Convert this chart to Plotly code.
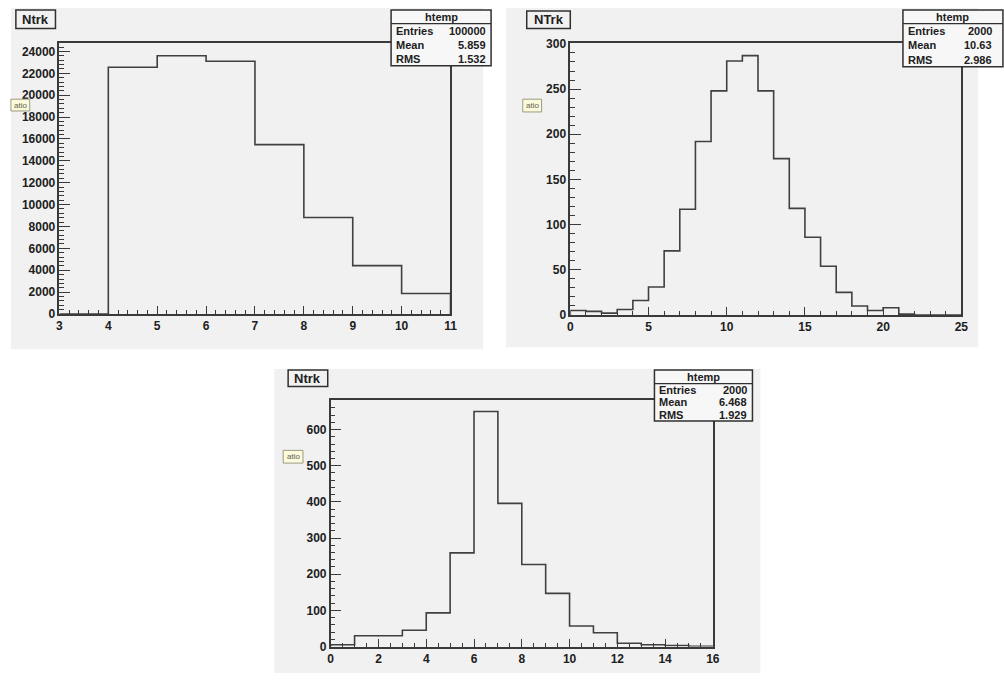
import plotly.graph_objects as go

W, H = 1004, 681

# ---------------- data ----------------
p1_edges = [3, 4, 5, 6, 7, 8, 9, 10, 11]
p1_counts = [0, 22560, 23610, 23100, 15480, 8820, 4420, 1880]
p1_stats = ["100000", "5.859", "1.532"]

p2_edges = list(range(0, 26))
p2_counts = [5, 4, 2, 6, 16, 31, 71, 117, 192, 248, 281, 287, 248, 173,
             118, 86, 54, 25, 10, 5, 8, 1, 0, 0, 0]
p2_stats = ["2000", "10.63", "2.986"]

p3_edges = list(range(0, 17))
p3_counts = [5, 30, 30, 45, 93, 259, 650, 396, 227, 147, 57, 38, 9, 5, 3, 1]
p3_stats = ["2000", "6.468", "1.929"]

stat_names = ["Entries", "Mean", "RMS"]
panel_titles = ["Ntrk", "NTrk", "Ntrk"]

# ---------------- style ----------------
BG = "#f1f1f1"
LINE = "#3a3a3a"
FONT = "Liberation Sans"


def px(x):
    return x / W


def py(y):
    return 1 - y / H


def step_xy(edges, counts):
    xs = [edges[0]] + list(edges)
    ys = [0] + list(counts) + [0]
    return xs, ys


fig = go.Figure()

panels = [
    dict(edges=p1_edges, counts=p1_counts, stats=p1_stats, title=panel_titles[0],
         frame=(57, 452, 38, 314), xr=[3, 11], yr=[0, 24750], xd=1, xm=0.2, yd=2000, ym=400,
         bg=(8, 485, 2, 350), tbox=(13, 53, 4, 23), sbox=(392, 493, 4, 18, 61),
         rbox=(8, 27, 95, 107)),
    dict(edges=p2_edges, counts=p2_counts, stats=p2_stats, title=panel_titles[1],
         frame=(573, 968, 38, 315), xr=[0, 25], yr=[0, 300.7], xd=5, xm=1, yd=50, ym=10,
         bg=(508, 985, 2, 348), tbox=(529, 573, 5, 23), sbox=(909, 1010, 4, 18, 62),
         rbox=(525, 544, 95, 108)),
    dict(edges=p3_edges, counts=p3_counts, stats=p3_stats, title=panel_titles[2],
         frame=(331, 717, 402, 653), xr=[0, 16], yr=[0, 681], xd=2, xm=0.5, yd=100, ym=20,
         bg=(274, 765, 370, 680), tbox=(288, 328, 371, 388), sbox=(658, 757, 371, 385, 423),
         rbox=(283, 303, 453, 466)),
]

shapes = []
annotations = []
layout_axes = {}

for i, p in enumerate(panels):
    n = "" if i == 0 else str(i + 1)
    xs, ys = step_xy(p["edges"], p["counts"])
    fig.add_trace(go.Scatter(
        x=xs, y=ys, mode="lines", line=dict(shape="hv", color="#404040", width=1.6),
        xaxis="x" + n, yaxis="y" + n, showlegend=False, hoverinfo="skip"))

    fx0, fx1, fy0, fy1 = p["frame"]
    common = dict(showline=True, linecolor=LINE, linewidth=1.5, mirror=True,
                  ticks="inside", tickcolor=LINE, showgrid=False, zeroline=False,
                  tickfont=dict(family=FONT, size=12, color="#202020", weight="bold"),
                  fixedrange=True)
    layout_axes["xaxis" + n] = dict(
        common, domain=[px(fx0), px(fx1)], range=p["xr"], anchor="y" + n,
        tick0=p["xr"][0], dtick=p["xd"], ticklen=8, tickwidth=1.2,
        minor=dict(ticks="inside", dtick=p["xm"], ticklen=4, tickcolor=LINE, tickwidth=1),
        tickformat="d")
    layout_axes["yaxis" + n] = dict(
        common, domain=[py(fy1), py(fy0)], range=p["yr"], anchor="x" + n,
        tick0=0, dtick=p["yd"], ticklen=11, tickwidth=1.2,
        minor=dict(ticks="inside", dtick=p["ym"], ticklen=5, tickcolor=LINE, tickwidth=1),
        tickformat="d")

    # panel background
    bx0, bx1, by0, by1 = p["bg"]
    shapes.append(dict(type="rect", xref="paper", yref="paper", layer="below",
                       x0=px(bx0), x1=px(bx1), y0=py(by1), y1=py(by0),
                       fillcolor=BG, line=dict(width=0)))

    # title box
    tx0, tx1, ty0, ty1 = p["tbox"]
    shapes.append(dict(type="rect", xref="paper", yref="paper", layer="above",
                       x0=px(tx0), x1=px(tx1), y0=py(ty1), y1=py(ty0),
                       fillcolor=BG, line=dict(color="#303030", width=1.5)))
    annotations.append(dict(xref="paper", yref="paper", x=px((tx0 + tx1) / 2),
                            y=py((ty0 + ty1) / 2), text="<b>%s</b>" % p["title"],
                            showarrow=False, xanchor="center", yanchor="middle",
                            font=dict(family=FONT, size=13, color="#202020")))

    # small clipped tooltip
    rx0, rx1, ry0, ry1 = p["rbox"]
    shapes.append(dict(type="rect", xref="paper", yref="paper", layer="above",
                       x0=px(rx0), x1=px(rx1), y0=py(ry1), y1=py(ry0),
                       fillcolor="#fbfbdc", line=dict(color="#9a9a80", width=1)))
    annotations.append(dict(xref="paper", yref="paper", x=px((rx0 + rx1) / 2),
                            y=py((ry0 + ry1) / 2), text="atio", showarrow=False,
                            xanchor="center", yanchor="middle",
                            font=dict(family=FONT, size=8, color="#606050")))

    # stats box
    sx0, sx1, sy0, sep, sy1 = p["sbox"]
    shapes.append(dict(type="rect", xref="paper", yref="paper", layer="above",
                       x0=px(sx0), x1=px(sx1), y0=py(sy1), y1=py(sy0),
                       fillcolor="#f7f7f7", line=dict(color="#303030", width=1.5)))
    shapes.append(dict(type="line", xref="paper", yref="paper", layer="above",
                       x0=px(sx0), x1=px(sx1), y0=py(sep), y1=py(sep),
                       line=dict(color="#303030", width=1.2)))
    annotations.append(dict(xref="paper", yref="paper", x=px((sx0 + sx1) / 2),
                            y=py((sy0 + sep) / 2), text="<b>htemp</b>", showarrow=False,
                            xanchor="center", yanchor="middle",
                            font=dict(family=FONT, size=11, color="#202020")))
    row_h = (sy1 - sep) / 3.0
    vx = min(sx1, W) - 3
    for k, (name, val) in enumerate(zip(stat_names, p["stats"])):
        yy = sep + row_h * (k + 0.5)
        annotations.append(dict(xref="paper", yref="paper", x=px(sx0 + 3), y=py(yy),
                                text="<b>%s</b>" % name, showarrow=False,
                                xanchor="left", yanchor="middle",
                                font=dict(family=FONT, size=11, color="#202020")))
        annotations.append(dict(xref="paper", yref="paper", x=px(vx), y=py(yy),
                                text="<b>%s</b>" % val, showarrow=False,
                                xanchor="right", yanchor="middle",
                                font=dict(family=FONT, size=11, color="#202020")))

fig.update_layout(
    width=W, height=H, margin=dict(l=0, r=0, t=0, b=0),
    paper_bgcolor="white", plot_bgcolor=BG, showlegend=False,
    shapes=shapes, annotations=annotations, **layout_axes)

fig.write_html(
    "out.html",
    config={"displayModeBar": False},
    post_script="document.body.style.margin='0';document.body.style.overflow='hidden';"
                "document.documentElement.style.overflow='hidden';")
